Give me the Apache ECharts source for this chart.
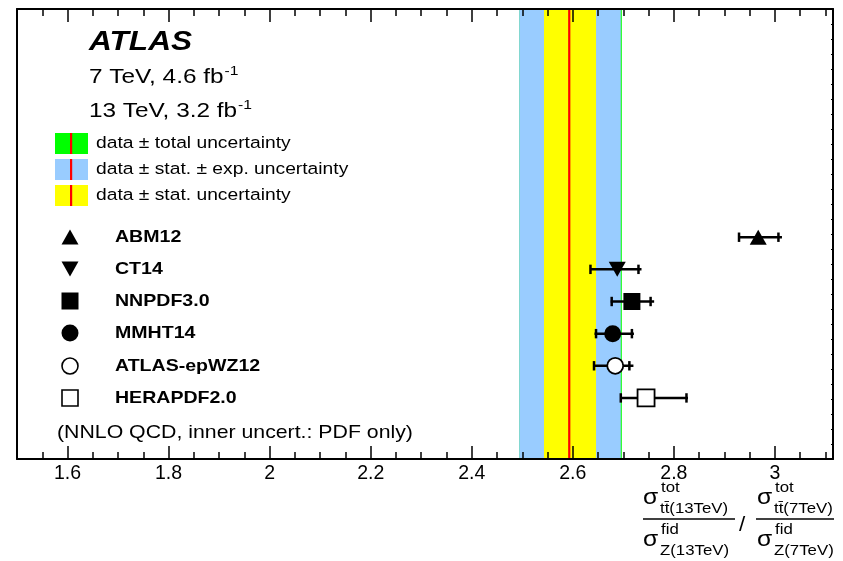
<!DOCTYPE html>
<html><head><meta charset="utf-8">
<script src="https://cdn.jsdelivr.net/npm/echarts@6/dist/echarts.min.js"></script>
<style>html,body{margin:0;padding:0;background:#fff}#c{width:843px;height:561px}</style>
</head><body><div id="c"></div>
<script>
// ---- data ----
const xTickValues = [1.6, 1.8, 2.0, 2.2, 2.4, 2.6, 2.8, 3.0];
const pdfNames = ['ABM12', 'CT14', 'NNPDF3.0', 'MMHT14', 'ATLAS-epWZ12', 'HERAPDF2.0'];
const pdfRow = [6, 5, 4, 3, 2, 1];
const pdfCentral = [2.967, 2.688, 2.717, 2.679, 2.684, 2.745];
const pdfInnerLow = [2.929, 2.635, 2.677, 2.646, 2.642, 2.695];
const pdfInnerHigh = [3.007, 2.730, 2.754, 2.717, 2.712, 2.825];
const pdfOuterLow = [2.928, 2.634, 2.675, 2.643, 2.640, 2.694];
const pdfOuterHigh = [3.014, 2.736, 2.761, 2.721, 2.720, 2.828];
const dataCentral = 2.593;
const bandTotal = [2.494, 2.697];
const bandStatExp = [2.494, 2.695];
const bandStat = [2.543, 2.646];

// ---- style ----
const FONT = "'Liberation Sans', Arial, Helvetica, sans-serif";
const SX = 1.12;
const bandColors = ['#00ff00', '#99ccff', '#ffff00'];
const symbols = [
  {symbol: 'triangle', size: [17, 15], fill: '#000'},
  {symbol: 'path://M0,0L20,0L10,18Z', size: [17, 15], fill: '#000'},
  {symbol: 'rect', size: 17, fill: '#000'},
  {symbol: 'circle', size: 17, fill: '#000'},
  {symbol: 'circle', size: 16, fill: '#fff'},
  {symbol: 'rect', size: 17, fill: '#fff'}
];

const minorTicks = [];
for (let k = 31; k <= 62; k++) {
  const v = +(k * 0.05).toFixed(2);
  if (Math.round(v * 100) % 20 !== 0) minorTicks.push(v);
}

const cv = document.createElement('canvas').getContext('2d');
function measure(t, size, sx, weight, style) {
  cv.font = (style || 'normal') + ' ' + (weight || 'normal') + ' ' + size + 'px ' + FONT;
  return cv.measureText(t).width * (sx || SX);
}
function txt(x, y, t, size, o) {
  o = o || {};
  return {
    type: 'text', x: x, y: y, scaleX: o.sx || SX, z: 100, silent: true,
    style: {
      text: t, fontSize: size, fontFamily: FONT, fontWeight: o.weight || 'normal',
      fontStyle: o.style || 'normal', fill: '#000',
      align: o.align || 'left', textAlign: o.align || 'left',
      verticalAlign: 'middle', textVerticalAlign: 'middle'
    }
  };
}

const graphics = [];
// ATLAS header
graphics.push(txt(89, 42.5, 'ATLAS', 28, {weight: 'bold', style: 'italic', sx: 1.13}));
const l1 = '7 TeV, 4.6 fb', l2 = '13 TeV, 3.2 fb';
const HS = 1.16;
graphics.push(txt(89, 77, l1, 21, {sx: HS}));
graphics.push(txt(89 + measure(l1, 21, HS) + 1, 71, '-1', 13.5, {sx: HS}));
graphics.push(txt(89, 111, l2, 21, {sx: HS}));
graphics.push(txt(89 + measure(l2, 21, HS) + 1, 105, '-1', 13.5, {sx: HS}));
// band legend
const bandLegendText = ['data \u00b1 total uncertainty', 'data \u00b1 stat. \u00b1 exp. uncertainty', 'data \u00b1 stat. uncertainty'];
[133, 159, 185].forEach((y, i) => {
  graphics.push({type: 'rect', silent: true, z: 100, shape: {x: 55, y: y, width: 33, height: 21}, style: {fill: bandColors[i]}});
  graphics.push({type: 'rect', silent: true, z: 101, shape: {x: 70, y: y, width: 2.2, height: 21}, style: {fill: '#ff0000'}});
  graphics.push(txt(96, y + 10.5, bandLegendText[i], 17.2));
});
// PDF legend
const legY = [237, 269, 301, 333, 366, 398];
legY.forEach((y, i) => {
  const cx = 70;
  let el;
  if (i === 0) el = {type: 'polygon', shape: {points: [[cx, y - 7.5], [cx + 8.5, y + 7.5], [cx - 8.5, y + 7.5]]}, style: {fill: '#000'}};
  else if (i === 1) el = {type: 'polygon', shape: {points: [[cx - 8.5, y - 7.5], [cx + 8.5, y - 7.5], [cx, y + 7.5]]}, style: {fill: '#000'}};
  else if (i === 2) el = {type: 'rect', shape: {x: cx - 8.5, y: y - 8.5, width: 17, height: 17}, style: {fill: '#000'}};
  else if (i === 3) el = {type: 'circle', shape: {cx: cx, cy: y, r: 8.5}, style: {fill: '#000'}};
  else if (i === 4) el = {type: 'circle', shape: {cx: cx, cy: y, r: 8}, style: {fill: '#fff', stroke: '#000', lineWidth: 1.6}};
  else el = {type: 'rect', shape: {x: cx - 8, y: y - 8, width: 16, height: 16}, style: {fill: '#fff', stroke: '#000', lineWidth: 1.6}};
  el.silent = true; el.z = 100;
  graphics.push(el);
  graphics.push(txt(115, y, pdfNames[i], 17, {weight: 'bold', sx: 1.15}));
});
graphics.push(txt(57, 433, '(NNLO QCD, inner uncert.: PDF only)', 19));

// x-axis title (fraction)
function sigmaBlock(x, y, sup, sub) {
  graphics.push(txt(x, y, '\u03c3', 22));
  graphics.push(txt(x + 18, y - 10, sup, 15));
  graphics.push(txt(x + 17, y + 11, sub, 15));
}
sigmaBlock(643, 498, 'tot', 'tt\u0304(13TeV)');
sigmaBlock(643, 540, 'fid', 'Z(13TeV)');
graphics.push({type: 'line', silent: true, z: 100, shape: {x1: 643, y1: 519, x2: 735, y2: 519}, style: {stroke: '#000', lineWidth: 1.5}});
graphics.push(txt(739, 525, '/', 20));
sigmaBlock(757, 498, 'tot', 'tt\u0304(7TeV)');
sigmaBlock(757, 540, 'fid', 'Z(7TeV)');
graphics.push({type: 'line', silent: true, z: 100, shape: {x1: 756, y1: 519, x2: 834, y2: 519}, style: {stroke: '#000', lineWidth: 1.5}});

const chart = echarts.init(document.getElementById('c'), null, {renderer: 'canvas'});
const xRange = {min: 1.5, max: 3.115};
const baseX = {type: 'value', min: xRange.min, max: xRange.max, z: 10, splitLine: {show: false}};
chart.setOption({
  animation: false,
  backgroundColor: '#fff',
  grid: {left: 17, right: 10, top: 9, bottom: 102, containLabel: false},
  xAxis: [
    Object.assign({}, baseX, {position: 'bottom',
      axisLine: {show: true, onZero: false, lineStyle: {color: '#000', width: 2}},
      axisTick: {show: true, inside: true, length: 13, customValues: xTickValues, lineStyle: {color: '#000', width: 1.5}},
      axisLabel: {show: true, customValues: xTickValues, margin: 5, color: '#000', fontSize: 19.5, fontFamily: FONT,
        formatter: v => String(+(+v).toFixed(1))}}),
    Object.assign({}, baseX, {position: 'bottom',
      axisLine: {show: false, onZero: false},
      axisTick: {show: true, inside: true, length: 7, customValues: minorTicks, lineStyle: {color: '#000', width: 1.5}},
      axisLabel: {show: false}}),
    Object.assign({}, baseX, {position: 'top',
      axisLine: {show: true, onZero: false, lineStyle: {color: '#000', width: 2}},
      axisTick: {show: true, inside: true, length: 13, customValues: xTickValues, lineStyle: {color: '#000', width: 1.5}},
      axisLabel: {show: false}}),
    Object.assign({}, baseX, {position: 'top',
      axisLine: {show: false, onZero: false},
      axisTick: {show: true, inside: true, length: 7, customValues: minorTicks, lineStyle: {color: '#000', width: 1.5}},
      axisLabel: {show: false}})
  ],
  yAxis: [
    {type: 'value', position: 'left', min: -0.9, max: 13.1, z: 10, splitLine: {show: false},
      axisLine: {show: true, onZero: false, lineStyle: {color: '#000', width: 2}},
      axisTick: {show: false}, axisLabel: {show: false}},
    {type: 'value', position: 'right', min: 0, max: 30, interval: 1, z: 10, splitLine: {show: false},
      axisLine: {show: true, onZero: false, lineStyle: {color: '#000', width: 2}},
      axisTick: {show: true, inside: true, length: 2, lineStyle: {color: '#000', width: 1}}, axisLabel: {show: false}}
  ],
  series: [
    {
      type: 'custom', z: 1, silent: true, xAxisIndex: 0, yAxisIndex: 0,
      data: [[bandTotal[0], bandTotal[1], 0], [bandStatExp[0], bandStatExp[1], 1], [bandStat[0], bandStat[1], 2]],
      renderItem: function (params, api) {
        const cs = params.coordSys;
        const x0 = api.coord([api.value(0), 0])[0];
        const x1 = api.coord([api.value(1), 0])[0];
        return {type: 'rect', shape: {x: x0, y: cs.y, width: x1 - x0, height: cs.height}, style: {fill: bandColors[api.value(2)]}};
      }
    },
    {
      type: 'custom', z: 2, silent: true, xAxisIndex: 0, yAxisIndex: 0,
      data: [[dataCentral]],
      renderItem: function (params, api) {
        const cs = params.coordSys;
        const x = api.coord([api.value(0), 0])[0];
        return {type: 'line', shape: {x1: x, y1: cs.y, x2: x, y2: cs.y + cs.height}, style: {stroke: '#ff0000', lineWidth: 2.2}};
      }
    },
    {
      type: 'custom', z: 3, silent: true, xAxisIndex: 0, yAxisIndex: 0,
      data: pdfNames.map((n, i) => [pdfRow[i], pdfOuterLow[i], pdfInnerLow[i], pdfInnerHigh[i], pdfOuterHigh[i]]),
      renderItem: function (params, api) {
        const r = api.value(0);
        const p0 = api.coord([api.value(1), r]);
        const p1 = api.coord([api.value(2), r]);
        const p2 = api.coord([api.value(3), r]);
        const p3 = api.coord([api.value(4), r]);
        const st = {stroke: '#000', lineWidth: 2.5};
        return {type: 'group', children: [
          {type: 'line', shape: {x1: p0[0], y1: p0[1], x2: p3[0], y2: p3[1]}, style: st},
          {type: 'line', shape: {x1: p1[0], y1: p1[1] - 4.7, x2: p1[0], y2: p1[1] + 4.7}, style: st},
          {type: 'line', shape: {x1: p2[0], y1: p2[1] - 4.7, x2: p2[0], y2: p2[1] + 4.7}, style: st}
        ]};
      }
    },
    {
      type: 'scatter', z: 5, silent: true, xAxisIndex: 0, yAxisIndex: 0,
      data: pdfNames.map((n, i) => ({
        name: n, value: [pdfCentral[i], pdfRow[i]],
        symbol: symbols[i].symbol, symbolSize: symbols[i].size,
        itemStyle: {color: symbols[i].fill, borderColor: '#000', borderWidth: symbols[i].fill === '#fff' ? 1.8 : 0, opacity: 1}
      }))
    }
  ],
  graphic: {elements: graphics}
});
</script></body></html>
